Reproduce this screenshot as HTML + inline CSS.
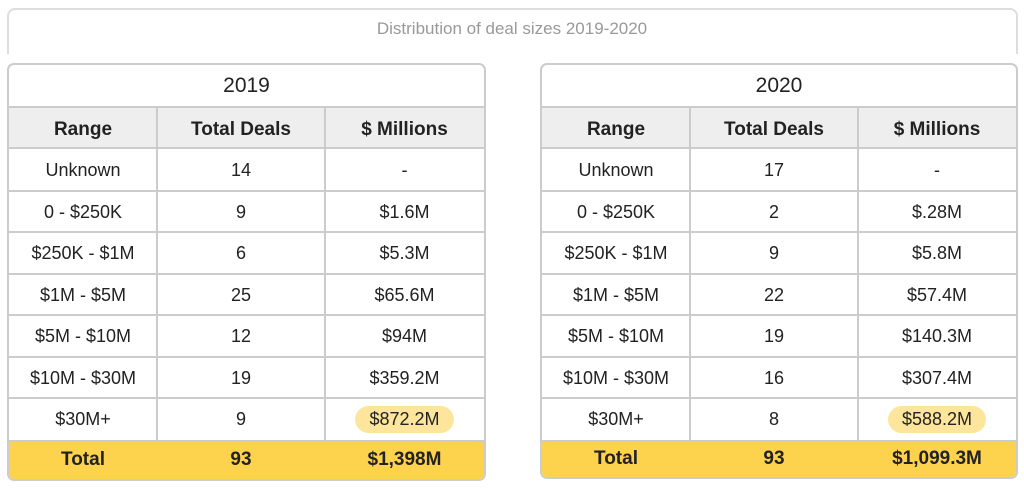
<!DOCTYPE html>
<html><head><meta charset="utf-8"><style>
body{margin:0;width:1024px;height:491px;background:#fff;font-family:"Liberation Sans",sans-serif;position:relative;overflow:hidden}
.abs{position:absolute;box-sizing:border-box}
.cell{position:absolute;display:flex;align-items:center;justify-content:center;color:#222;font-size:18px}
</style></head><body>
<div class="abs" style="left:7px;top:8px;width:1011px;height:46px;border:2px solid #ddd;border-bottom:none;border-radius:8px 8px 0 0"></div>
<div class="abs" style="left:0;top:19px;width:1024px;text-align:center;color:#999;font-size:17px">Distribution of deal sizes 2019-2020</div>
<div id="root"></div>
<script>
const ranges=["Unknown","0 - $250K","$250K - $1M","$1M - $5M","$5M - $10M","$10M - $30M","$30M+"];
const deals2019=["14","9","6","25","12","19","9"];
const millions2019=["-","$1.6M","$5.3M","$65.6M","$94M","$359.2M","$872.2M"];
const deals2020=["17","2","9","22","19","16","8"];
const millions2020=["-","$.28M","$5.8M","$57.4M","$140.3M","$307.4M","$588.2M"];
const totals2019=["Total","93","$1,398M"];
const totals2020=["Total","93","$1,099.3M"];
const headers=["Range","Total Deals","$ Millions"];
const root=document.getElementById('root');
function mk(parent,cls,css,text){const d=document.createElement('div');d.className=cls;d.style.cssText=css;if(text!==undefined)d.textContent=text;parent.appendChild(d);return d;}
function table(year,x,w,cols,deals,mil,tot,bottom){
  const t=mk(root,'abs',`left:${x}px;top:63px;width:${w}px;height:${bottom-63}px;border:2px solid #ccc;border-radius:7px;overflow:hidden;background:#fff`);
  
  
  const W=w-4;
  const ttl=mk(t,'cell',`left:0;top:0;width:${W}px;height:41px;font-size:21px`,year);
  
  
  const hb=mk(t,'abs',`left:0;top:41px;width:${W}px;height:43px;background:#eee;border-top:2px solid #ccc;border-bottom:2px solid #ccc`);
  
  
  const edges=[0,cols[0]-x-2,cols[1]-x-2,W];
  for(let c=0;c<3;c++){
    const h=mk(t,'cell',`left:${edges[c]}px;top:44px;width:${edges[c+1]-edges[c]}px;height:41px;font-weight:bold;font-size:19px`,headers[c]);
    
    
  }
  const rowTop=84,rh=41.5;
  for(let r=0;r<ranges.length;r++){
    const y=rowTop+r*rh;
    if(r>0){const l=mk(t,'abs',`left:0;top:${y-1}px;width:${W}px;height:2px;background:#ccc`);}
    const vals=[ranges[r],deals[r],mil[r]];
    for(let c=0;c<3;c++){
      const cell=mk(t,'cell',`left:${edges[c]}px;top:${y+1}px;width:${edges[c+1]-edges[c]}px;height:${rh}px`);
      
      
      if(r===ranges.length-1&&c===2){
        const p=document.createElement('span');p.textContent=vals[c];
        p.style.cssText='background:#fde59b;border-radius:14px;padding:3px 14px';
        
        
        cell.appendChild(p);
      } else cell.textContent=vals[c];
    }
  }
  const endY=rowTop+ranges.length*rh;
  for(let c=1;c<3;c++){const v=mk(t,'abs',`left:${edges[c]-1}px;top:41px;width:2px;height:${endY-41}px;background:#ccc`);}
  const tr=mk(t,'abs',`left:0;top:${endY}px;width:${W}px;height:${bottom-63-4-endY}px;background:#fdd24c;border-top:2px solid #ccc`);
  
  
  for(let c=0;c<3;c++){
    const cell=mk(tr,'cell',`left:${edges[c]}px;top:0;width:${edges[c+1]-edges[c]}px;height:100%;font-weight:bold;font-size:19px`,tot[c]);
    
    
  }
}
table("2019",7,479,[157,325],deals2019,millions2019,totals2019,481);
table("2020",540,478,[690,858],deals2020,millions2020,totals2020,479);
</script>
</body></html>
